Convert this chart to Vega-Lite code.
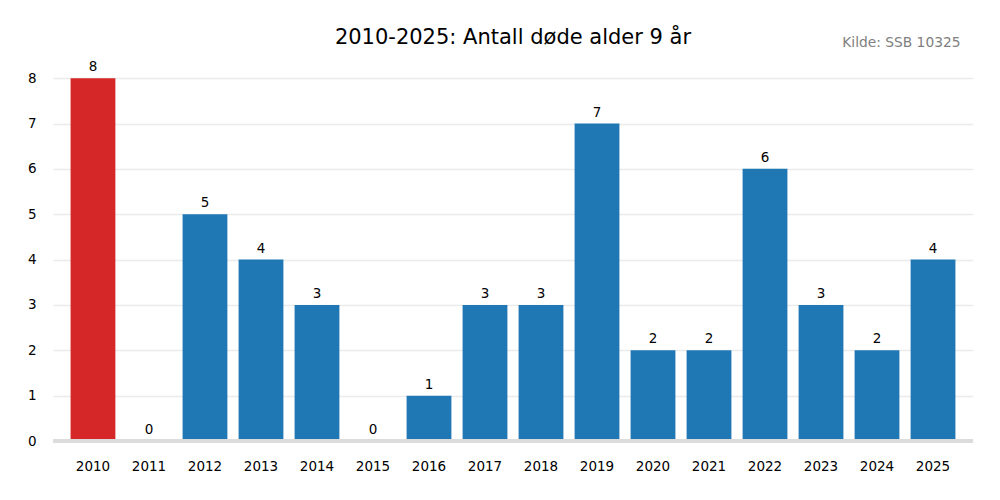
{
  "$schema": "https://vega.github.io/schema/vega-lite/v6.json",
  "autosize": "none",
  "width": 920,
  "height": 381,
  "padding": {"left": 53, "top": 60, "right": 27, "bottom": 59},
  "background": "white",
  "title": {
    "text": "2010-2025: Antall døde alder 9 år",
    "font": "DejaVu Sans",
    "fontSize": 21,
    "fontWeight": "normal",
    "color": "black",
    "anchor": "middle",
    "offset": 0,
    "dy": 12
  },
  "config": {
    "view": {"stroke": null},
    "font": "DejaVu Sans"
  },
  "datasets": {
    "deaths": [
      {"year": "2010", "deaths": 8, "highlight": "yes"},
      {"year": "2011", "deaths": 0, "highlight": "no"},
      {"year": "2012", "deaths": 5, "highlight": "no"},
      {"year": "2013", "deaths": 4, "highlight": "no"},
      {"year": "2014", "deaths": 3, "highlight": "no"},
      {"year": "2015", "deaths": 0, "highlight": "no"},
      {"year": "2016", "deaths": 1, "highlight": "no"},
      {"year": "2017", "deaths": 3, "highlight": "no"},
      {"year": "2018", "deaths": 3, "highlight": "no"},
      {"year": "2019", "deaths": 7, "highlight": "no"},
      {"year": "2020", "deaths": 2, "highlight": "no"},
      {"year": "2021", "deaths": 2, "highlight": "no"},
      {"year": "2022", "deaths": 6, "highlight": "no"},
      {"year": "2023", "deaths": 3, "highlight": "no"},
      {"year": "2024", "deaths": 2, "highlight": "no"},
      {"year": "2025", "deaths": 4, "highlight": "no"}
    ],
    "source": [{"year": "2025", "deaths": 8.4, "source": "Kilde: SSB 10325"}]
  },
  "data": {"name": "deaths"},
  "encoding": {
    "x": {
      "field": "year",
      "type": "nominal",
      "sort": null,
      "scale": {"paddingInner": 0.2, "paddingOuter": 0.314},
      "axis": {
        "title": null,
        "labelAngle": 0,
        "labelFontSize": 13.5,
        "labelColor": "black",
        "labelPadding": 18,
        "ticks": false,
        "domain": false,
        "grid": false
      }
    },
    "y": {
      "field": "deaths",
      "type": "quantitative",
      "scale": {"domain": [0, 8.4], "nice": false},
      "axis": {
        "title": null,
        "values": [0, 1, 2, 3, 4, 5, 6, 7, 8],
        "labelFontSize": 13.5,
        "labelColor": "black",
        "labelPadding": 17,
        "ticks": false,
        "domain": false,
        "grid": true,
        "gridColor": "#ebebeb",
        "gridWidth": 1.5
      }
    }
  },
  "layer": [
    {
      "mark": {"type": "bar"},
      "encoding": {
        "color": {
          "field": "highlight",
          "type": "nominal",
          "scale": {"domain": ["yes", "no"], "range": ["#d62728", "#1f77b4"]},
          "legend": null
        }
      }
    },
    {
      "mark": {"type": "text", "baseline": "bottom", "dy": -4, "fontSize": 13.5, "color": "black"},
      "encoding": {"text": {"field": "deaths", "type": "quantitative"}}
    },
    {
      "mark": {"type": "rule", "color": "#dcdcdc", "strokeWidth": 2.5},
      "encoding": {"y": {"datum": 0}, "x": null}
    },
    {
      "data": {"name": "source"},
      "mark": {"type": "text", "align": "right", "baseline": "middle", "fontSize": 13.8, "color": "gray", "dx": 5, "dy": -17, "xOffset": 22.5},
      "encoding": {
        "text": {"field": "source", "type": "nominal"}
      }
    }
  ]
}
